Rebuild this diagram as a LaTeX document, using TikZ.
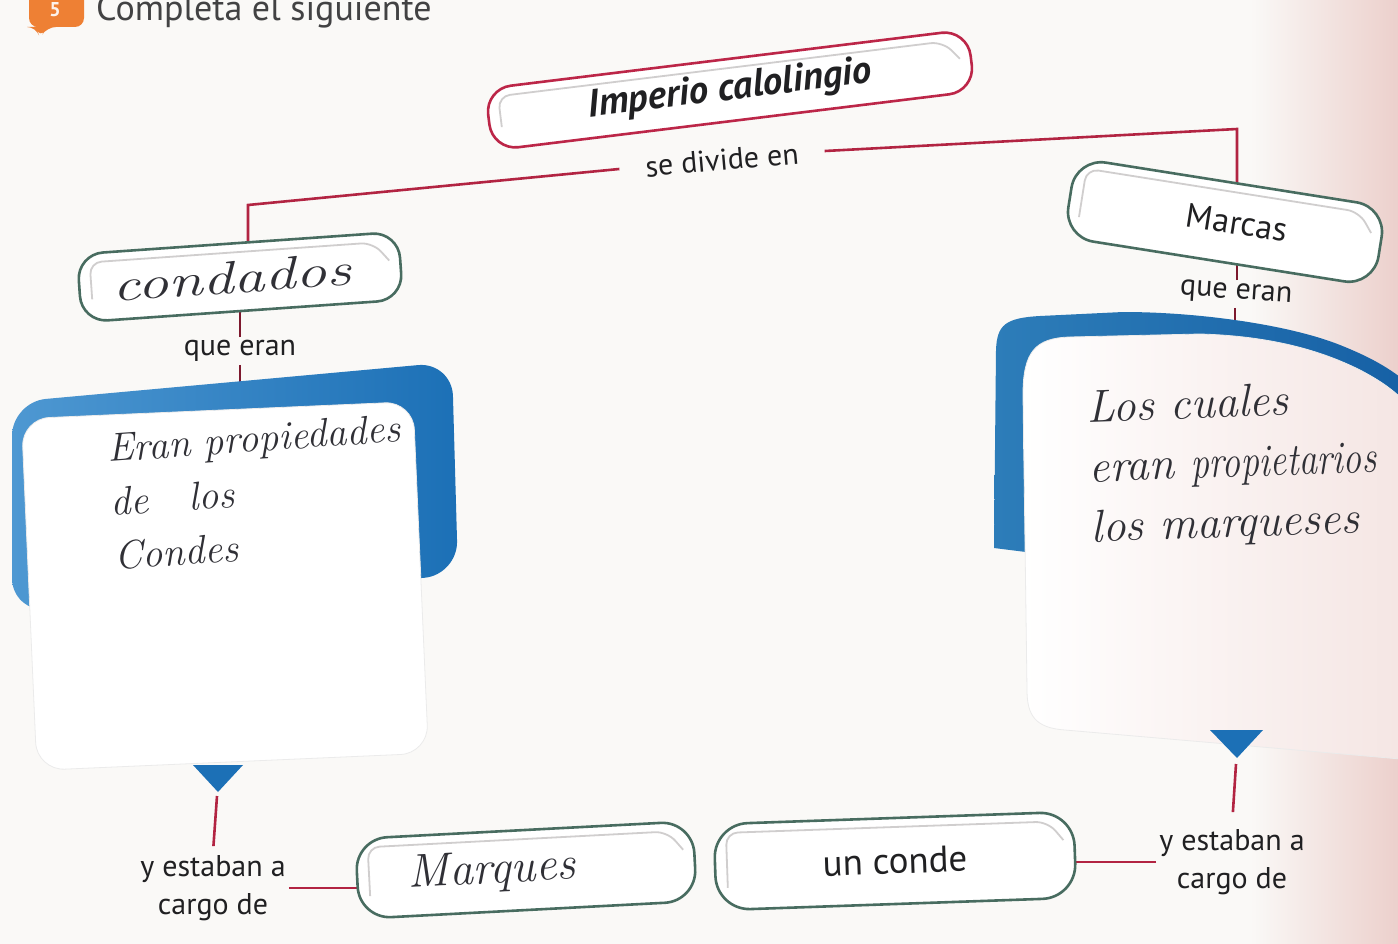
\documentclass[tikz,border=0pt]{standalone}
\usepackage{fontspec}
\usepackage{graphicx}
\newfontfamily\bookfont{PT Sans}
\usetikzlibrary{calc}
\pgfdeclarelayer{paperl}
\pgfdeclarelayer{bg}
\pgfsetlayers{paperl,bg,main}
\definecolor{conn}{RGB}{178,36,66}
\definecolor{capred}{RGB}{188,38,72}
\definecolor{capgreen}{RGB}{72,108,96}
\definecolor{bandA}{RGB}{78,152,210}
\definecolor{bandB}{RGB}{28,112,182}
\definecolor{bandC}{RGB}{45,125,185}
\definecolor{bandD}{RGB}{22,96,165}
\definecolor{ink}{RGB}{32,32,34}
\definecolor{pen}{RGB}{48,48,54}
\definecolor{glint}{RGB}{208,206,206}
\definecolor{paper}{RGB}{250,249,247}
\definecolor{pinkish}{RGB}{236,208,204}
\definecolor{iconorange}{RGB}{238,128,52}
\tikzset{
  capsule/.style={draw, line width=2.6pt, fill=white, rounded corners=26pt, inner sep=0pt, text=ink},
  redcap/.style={capsule, draw=capred},
  greencap/.style={capsule, draw=capgreen},
  lbl/.style={font=\bookfont\fontsize{30}{38}\selectfont, text=ink, inner sep=3pt, align=center},
  hand/.style={text=pen, inner sep=0pt, align=left},
  link/.style={draw=conn, line width=2.6pt},
  tick/.style={draw=conn!70!black, line width=1.4pt},
  card/.style={fill=white, draw=black!8, line width=0.8pt, rounded corners=28pt, inner sep=0pt},
  tri/.style={fill=bandB},
}
\newcommand\capglint[4]{%
  \begin{scope}[shift={(#1.center)}, rotate=#4, x=1pt, y=1pt]
    \draw[glint, line width=1.8pt, rounded corners=12pt]
      (-#2/2+12, -#3/2+22) -- (-#2/2+12, #3/2-9) -- (#2/2-26, #3/2-9) -- (#2/2-11, #3/2-28);
  \end{scope}}
\begin{document}
\begin{tikzpicture}[x=1pt,y=-1pt]
\useasboundingbox (0,0) rectangle (1398,944);
\clip (0,0) rectangle (1398,944);
\begin{pgfonlayer}{paperl}
\fill[paper] (0,0) rectangle (1398,944);
\shade[left color=paper, right color=pinkish] (1250,0) rectangle (1398,944);
\end{pgfonlayer}

% header
\fill[iconorange, rounded corners=9pt] (29,-14) -- (84,-14) -- (84,27) -- (47,27) -- (40,38) -- (36,27) -- (29,27) -- cycle;
\node[font=\bookfont\bfseries\fontsize{20}{20}\selectfont, text=white!90!iconorange, inner sep=0pt] (iconnum) at (55,10) {5};
\node[anchor=base west, font=\bookfont\fontsize{36}{36}\selectfont, text=ink!85, inner sep=0pt] (head) at (96,21) {Completa el siguiente};

% blue bands
\shade[left color=bandA, right color=bandB, rounded corners=34pt] (12,402) -- (452,362) -- (458,575) -- (12,612) -- cycle;
\shade[left color=bandC, right color=bandD] (994,548) -- (996,350) .. controls (997,325) and (1005,318) .. (1040,316) -- (1123,312) .. controls (1200,312) and (1290,325) .. (1340,345) .. controls (1370,357) and (1390,368) .. (1410,385) -- (1410,600) -- cycle;

% cards
\node[card, minimum width=392pt, minimum height=352pt, rotate=2.5] (lcard) at (225,586) {};
\shade[left color=white, right color=pinkish!55!white, draw=black!8, line width=0.8pt] (1023,395) .. controls (1023,352) and (1035,338) .. (1070,337) -- (1200,334) .. controls (1270,336) and (1320,350) .. (1360,370) .. controls (1385,383) and (1400,395) .. (1412,410) -- (1412,760) -- (1065,730) .. controls (1035,728) and (1027,715) .. (1027,690) -- cycle;
\coordinate (rcard) at (1215,550);

% triangles
\fill[tri] (193,765) -- (243,765) -- (218,792) -- cycle;
\coordinate (ltip) at (217,796);
\fill[tri] (1210,730) -- (1263,730) -- (1237,758) -- cycle;
\coordinate (rtip) at (1236,764);

% capsules
\node[redcap, minimum width=486pt, minimum height=62pt, rotate=7, font=\bookfont\bfseries\itshape\fontsize{39}{39}\selectfont] (imp) at (730,90) {\raisebox{-6pt}{Imperio calolingio}};
\capglint{imp}{486}{62}{7}
\node[greencap, minimum width=322pt, minimum height=68pt, rotate=4, font=\itshape\fontsize{46}{46}\selectfont, text=pen] (cond) at (240,277) {\scalebox{1.35}[1]{condados}\rule{16pt}{0pt}};
\capglint{cond}{322}{68}{4}
\node[greencap, minimum width=314pt, minimum height=80pt, rounded corners=30pt, rotate=-9, font=\bookfont\fontsize{34}{34}\selectfont] (marc) at (1225,222) {\rule{24pt}{0pt}\raisebox{3pt}{Marcas}};
\capglint{marc}{314}{80}{-9}
\node[greencap, minimum width=338pt, minimum height=80pt, rounded corners=32pt, rotate=3, font=\itshape\fontsize{47}{47}\selectfont, text=pen] (marq) at (526,870) {Marques\rule{68pt}{0pt}};
\capglint{marq}{338}{80}{3}
\node[greencap, minimum width=360pt, minimum height=86pt, rounded corners=34pt, rotate=2, font=\bookfont\fontsize{37}{37}\selectfont] (conde) at (895,861) {un conde};
\capglint{conde}{360}{86}{2}

% labels
\node[lbl, rotate=5, inner xsep=26pt] (div) at (722,160) {se divide en};
\node[lbl] (qe1) at (240,351) {que eran};
\node[lbl, rotate=-4] (qe2) at (1236,294) {que eran};
\node[lbl] (ye1) at (213,888) {y estaban a\\cargo de};
\node[lbl] (ye2) at (1232,862) {y estaban a\\cargo de};

% handwriting in cards
\node[hand, anchor=north west, rotate=4, font=\itshape\fontsize{40}{54}\selectfont] (ltext) at (106,434) {Eran propiedades\\de\quad los\\Condes};
\node[hand, anchor=north west, rotate=2, font=\itshape\fontsize{46}{60}\selectfont] (rtext) at (1086,390) {Los cuales\\eran \scalebox{0.8}[1]{propietarios}\\los marqueses};

% connectors
\begin{pgfonlayer}{bg}
\coordinate (jl) at (248,205);
\coordinate (jr) at (1237,129);
\draw[link] (div.west) -- (jl) -- (jl |- cond.center);
\draw[link] (div.east) -- (jr) -- (jr |- marc.center);
\draw[tick] (qe1.north) -- (qe1.north |- cond.center);
\draw[tick] (qe1.south) -- (qe1.south |- lcard.center);
\draw[tick] (qe2.north) -- (qe2.north |- marc.center);
\draw[tick] (qe2.south) -- (qe2.south |- rcard);
\draw[link, shorten >=6pt] (ltip) -- (ye1.north);
\draw[link, shorten >=14pt] (rtip) -- (ye2.north);
\draw[link] (ye1.east) -- (ye1.east -| marq.center);
\draw[link] (ye2.west) -- (ye2.west -| conde.center);
\end{pgfonlayer}
\end{tikzpicture}
\end{document}
